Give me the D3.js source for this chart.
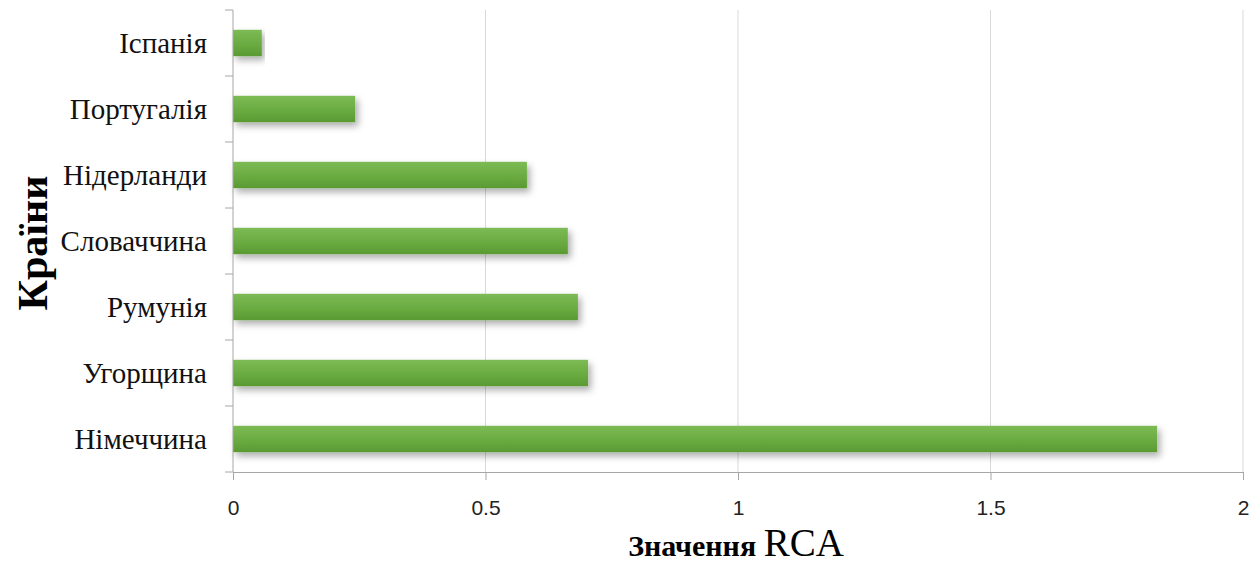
<!DOCTYPE html>
<html>
<head>
<meta charset="utf-8">
<script src="https://cdn.jsdelivr.net/npm/d3@7"></script>
<style>
  html, body { margin: 0; padding: 0; background: #fff; }
  svg { display: block; }
</style>
</head>
<body>
<svg id="chart" width="1259" height="563"></svg>
<script>
// RCA values by country (top to bottom)
const countries = ["Іспанія", "Португалія", "Нідерланди", "Словаччина", "Румунія", "Угорщина", "Німеччина"];
const rcaValues = [0.057, 0.242, 0.582, 0.663, 0.683, 0.703, 1.83];
const xTicks = [0, 0.5, 1, 1.5, 2];
const xTitleBold = "Значення";
const xTitleRegular = "RCA";
const yTitle = "Країни";

const svg = d3.select("#chart");
const margin = { left: 233, right: 16, top: 10, bottom: 91 };
const W = 1259, H = 563;
const plotW = W - margin.left - margin.right;
const plotH = H - margin.top - margin.bottom;

const x = d3.scaleLinear().domain([0, 2]).range([margin.left, margin.left + plotW]);
const y = d3.scaleBand().domain(countries).range([margin.top, margin.top + plotH]).paddingInner(0.6).paddingOuter(0.3);

const defs = svg.append("defs");
const grad = defs.append("linearGradient").attr("id", "barGrad").attr("x1", 0).attr("y1", 0).attr("x2", 0).attr("y2", 1);
grad.append("stop").attr("offset", "0%").attr("stop-color", "#7dbb55");
grad.append("stop").attr("offset", "55%").attr("stop-color", "#6aab41");
grad.append("stop").attr("offset", "100%").attr("stop-color", "#5a9a32");

const shadow = defs.append("filter").attr("id", "barShadow")
  .attr("x", "-5%").attr("y", "-30%").attr("width", "115%").attr("height", "190%");
shadow.append("feDropShadow").attr("dx", 3).attr("dy", 4).attr("stdDeviation", 3.5)
  .attr("flood-color", "#000").attr("flood-opacity", 0.32);

// vertical gridlines
svg.append("g").selectAll("line").data(xTicks.slice(1)).join("line")
  .attr("x1", d => x(d)).attr("x2", d => x(d))
  .attr("y1", margin.top).attr("y2", margin.top + plotH)
  .attr("stroke", "#d9d9d9").attr("stroke-width", 1);

// bars
svg.append("g").selectAll("rect").data(countries).join("rect")
  .attr("x", x(0))
  .attr("y", d => y(d))
  .attr("width", (d, i) => x(rcaValues[i]) - x(0))
  .attr("height", y.bandwidth())
  .attr("fill", "url(#barGrad)")
  .attr("filter", "url(#barShadow)");

// x axis
const xAxis = svg.append("g")
  .attr("transform", `translate(0,${margin.top + plotH})`)
  .call(d3.axisBottom(x).tickValues(xTicks).tickFormat(d => String(d)).tickSize(8).tickPadding(20));
xAxis.select(".domain").attr("stroke", "#a6a6a6");
xAxis.selectAll(".tick line").attr("stroke", "#a6a6a6");
xAxis.selectAll("text").attr("font-family", "'Liberation Sans', 'Open Sans', sans-serif")
  .attr("font-size", 21).attr("fill", "#222");

// y axis: ticks at band boundaries
const boundaries = countries.map(c => y(c) - y.step() * y.paddingInner() / 2);
boundaries.push(margin.top + plotH);
svg.append("line").attr("x1", x(0)).attr("x2", x(0))
  .attr("y1", margin.top).attr("y2", margin.top + plotH).attr("stroke", "#a6a6a6");
svg.append("g").selectAll("line").data(boundaries).join("line")
  .attr("x1", x(0) - 8).attr("x2", x(0))
  .attr("y1", d => d).attr("y2", d => d).attr("stroke", "#a6a6a6");

svg.append("g").selectAll("text").data(countries).join("text")
  .attr("x", 207)
  .attr("y", d => y(d) + y.bandwidth() / 2)
  .attr("dy", "0.35em")
  .attr("text-anchor", "end")
  .attr("font-family", "'Liberation Serif', 'Times New Roman', serif")
  .attr("font-size", 29).attr("fill", "#111")
  .text(d => d);

// axis titles
const xt = svg.append("text")
  .attr("x", x(1) - 2).attr("y", 556)
  .attr("text-anchor", "middle")
  .attr("font-family", "'Liberation Serif', 'Times New Roman', serif")
  .attr("fill", "#000");
xt.append("tspan").attr("font-weight", "bold").attr("font-size", 30).text(xTitleBold + " ");
xt.append("tspan").attr("font-size", 39).text(xTitleRegular);

svg.append("text")
  .attr("transform", `translate(47,${margin.top + plotH / 2 + 2}) rotate(-90)`)
  .attr("text-anchor", "middle")
  .attr("font-family", "'Liberation Serif', 'Times New Roman', serif")
  .attr("font-weight", "bold").attr("font-size", 42).attr("fill", "#000")
  .text(yTitle);
</script>
</body>
</html>
